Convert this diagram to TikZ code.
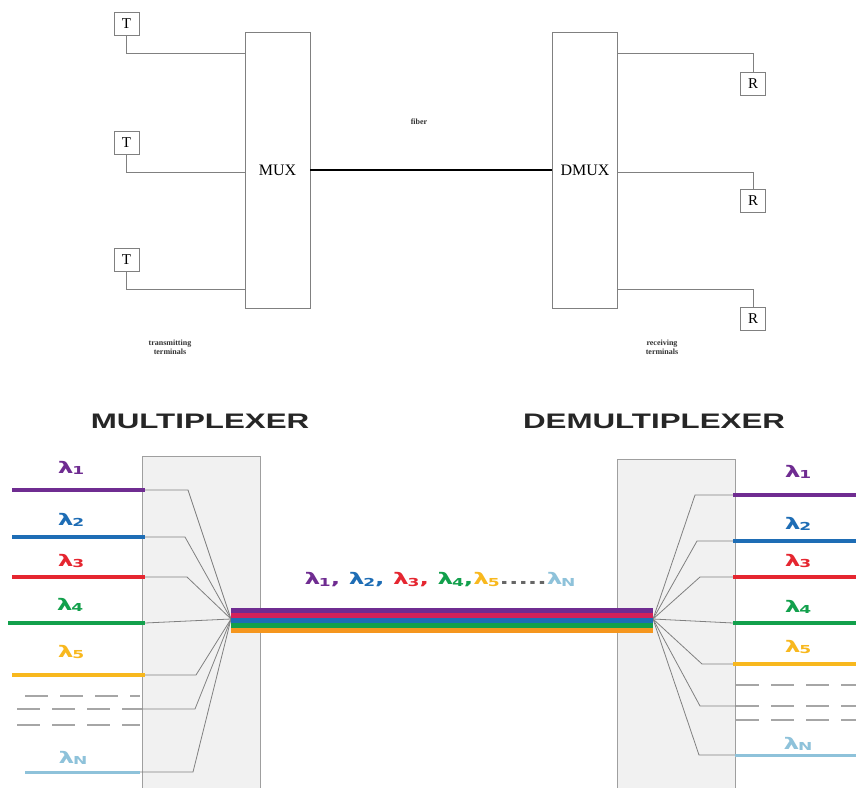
\documentclass[tikz,border=0pt]{standalone}
\usepackage{fontspec}
\setmainfont{Liberation Serif}
\newfontfamily\headfont{Liberation Sans}
\newfontfamily\lamfont{DejaVu Sans}
\usepackage{graphicx}
\usetikzlibrary{calc}
\definecolor{purp}{HTML}{6F2C91}
\definecolor{blu}{HTML}{1E6DB5}
\definecolor{redc}{HTML}{E52630}
\definecolor{grn}{HTML}{12A04C}
\definecolor{yel}{HTML}{F8B81E}
\definecolor{lblu}{HTML}{8EC2DA}
\definecolor{crim}{HTML}{D4215A}
\definecolor{orng}{HTML}{F5961E}
\definecolor{boxfill}{HTML}{F1F1F1}
\definecolor{wiregray}{HTML}{808080}
\newcommand{\lamg}[2]{\textcolor{#1}{λ\kern-0.05em\raisebox{-0.08em}{\fontsize{11}{11}\selectfont #2}}}
\newcommand{\lamlbl}[2]{\scalebox{1.55}[1]{\lamfont\bfseries\fontsize{16}{16}\selectfont\lamg{#1}{#2}}}
\begin{document}
\begin{tikzpicture}[x=1pt,y=-1pt,
  tbox/.style={draw=wiregray, line width=0.9pt, minimum width=25pt, minimum height=23pt, inner sep=0pt, font=\fontsize{15}{15}\selectfont},
  muxbox/.style={draw=wiregray, line width=0.9pt, minimum width=65pt, minimum height=276pt, inner sep=0pt, font=\fontsize{16}{16}\selectfont},
  wire/.style={draw=wiregray, line width=0.9pt},
  fiberline/.style={draw=black, line width=2pt},
  smalltxt/.style={font=\bfseries\fontsize{8}{9}\selectfont, align=center, text=black!80},
  title/.style={font=\headfont\bfseries\fontsize{21}{21}\selectfont, text=black!85},
  bigbox/.style={draw=gray!75, fill=boxfill, line width=1.2pt, anchor=north west, minimum width=118pt, minimum height=350pt, inner sep=0pt},
  colline/.style={line width=4pt},
  fan/.style={draw=wiregray, line width=0.8pt},
  dashline/.style={draw=gray!70, line width=2.8pt, dash pattern=on 23pt off 12pt}
]
\useasboundingbox (0,0) rectangle (856,787);
\clip (0,0) rectangle (856,787);
\fill[white] (0,0) rectangle (856,787);

% ---------- top diagram ----------
\node[tbox] (t1) at (126.5,24) {T};
\node[tbox] (t2) at (126.5,142.5) {T};
\node[tbox] (t3) at (126.5,260) {T};
\node[muxbox] (mux) at (277.5,170) {MUX};
\node[muxbox] (dmux) at (585,170) {DMUX};
\node[tbox] (r1) at (753,83.5) {R};
\node[tbox] (r2) at (753,201) {R};
\node[tbox] (r3) at (753,319) {R};

\draw[wire] (t1.south) |- (mux.west |- 0,53);
\draw[wire] (t2.south) |- (mux.west |- 0,172);
\draw[wire] (t3.south) |- (mux.west |- 0,289);
\draw[wire] (dmux.east |- 0,53) -| (r1.north);
\draw[wire] (dmux.east |- 0,172) -| (r2.north);
\draw[wire] (dmux.east |- 0,289) -| (r3.north);
\draw[fiberline] (mux.east) -- (dmux.west);

\node[smalltxt] (fib) at (419,122) {fiber};
\node[smalltxt] (tl) at (170,347) {transmitting\\terminals};
\node[smalltxt] (rl) at (662,347) {receiving\\terminals};

% ---------- bottom diagram ----------
\node[title] (mt) at (200,421) {\scalebox{1.49}[1]{MULTIPLEXER}};
\node[title] (dt) at (654,421) {\scalebox{1.49}[1]{DEMULTIPLEXER}};

\node[bigbox] (lbox) at (142,456) {};
\node[bigbox] (rbox) at (617,459) {};

\coordinate (C1) at (231,619);
\coordinate (C2) at (653,619);

% left inputs
\foreach \y/\bx/\col/\sub/\ly in {490/188/purp/1/468, 537/185/blu/2/520, 577/187/redc/3/561, 675/196/yel/5/652}{
  \draw[colline, \col] (12,\y) -- (145,\y);
  \draw[fan] (145,\y) -- (\bx,\y) -- (C1);
  \node (ll\sub) at (71,\ly) {\lamlbl{\col}{\sub}};
}
\draw[colline, grn] (8,623) -- (145,623);
\draw[fan] (145,623) -- (C1);
\node (ll4) at (70,605) {\lamlbl{grn}{4}};
\draw[dashline] (25,696) -- (140,696);
\draw[dashline] (17,709) -- (142,709);
\draw[dashline] (17,725) -- (140,725);
\draw[fan] (142,709) -- (195,709) -- (C1);
\draw[colline, lblu, line width=3pt] (25,772) -- (140,772);
\draw[fan] (140,772) -- (193,772) -- (C1);
\node (llN) at (73,758) {\lamlbl{lblu}{N}};

% right outputs
\foreach \y/\bx/\col/\sub/\ly in {495/695/purp/1/472, 541/697/blu/2/524, 577/700/redc/3/561, 664/702/yel/5/647}{
  \draw[colline, \col] (733,\y) -- (856,\y);
  \draw[fan] (733,\y) -- (\bx,\y) -- (C2);
  \node (rl\sub) at (798,\ly) {\lamlbl{\col}{\sub}};
}
\draw[colline, grn] (733,623) -- (856,623);
\draw[fan] (733,623) -- (C2);
\node (rl4) at (798,607) {\lamlbl{grn}{4}};
\draw[dashline] (736,685) -- (856,685);
\draw[dashline] (736,706) -- (856,706);
\draw[dashline] (736,720) -- (856,720);
\draw[fan] (736,706) -- (700,706) -- (C2);
\draw[colline, lblu, line width=3pt] (735,755) -- (856,755);
\draw[fan] (735,755) -- (699,755) -- (C2);
\node (rlN) at (798,744) {\lamlbl{lblu}{N}};

% fiber bundle
\foreach \c [count=\i] in {purp,crim,blu,grn,orng}{
  \fill[\c] ($(C1)+(0,-16.5+5*\i)$) rectangle ($(C2)+(0,-11.5+5*\i)$);
}

\node (flbl) at (440,580) {\scalebox{1.55}[1]{\lamfont\bfseries\fontsize{16}{16}\selectfont
  \lamg{purp}{1}\textcolor{purp}{,} \lamg{blu}{2}\textcolor{blu}{,} \lamg{redc}{3}\textcolor{redc}{,} \lamg{grn}{4}\textcolor{grn}{,}\lamg{yel}{5}\textcolor{gray!80!black}{.....}\lamg{lblu}{N}}};
\end{tikzpicture}
\end{document}
